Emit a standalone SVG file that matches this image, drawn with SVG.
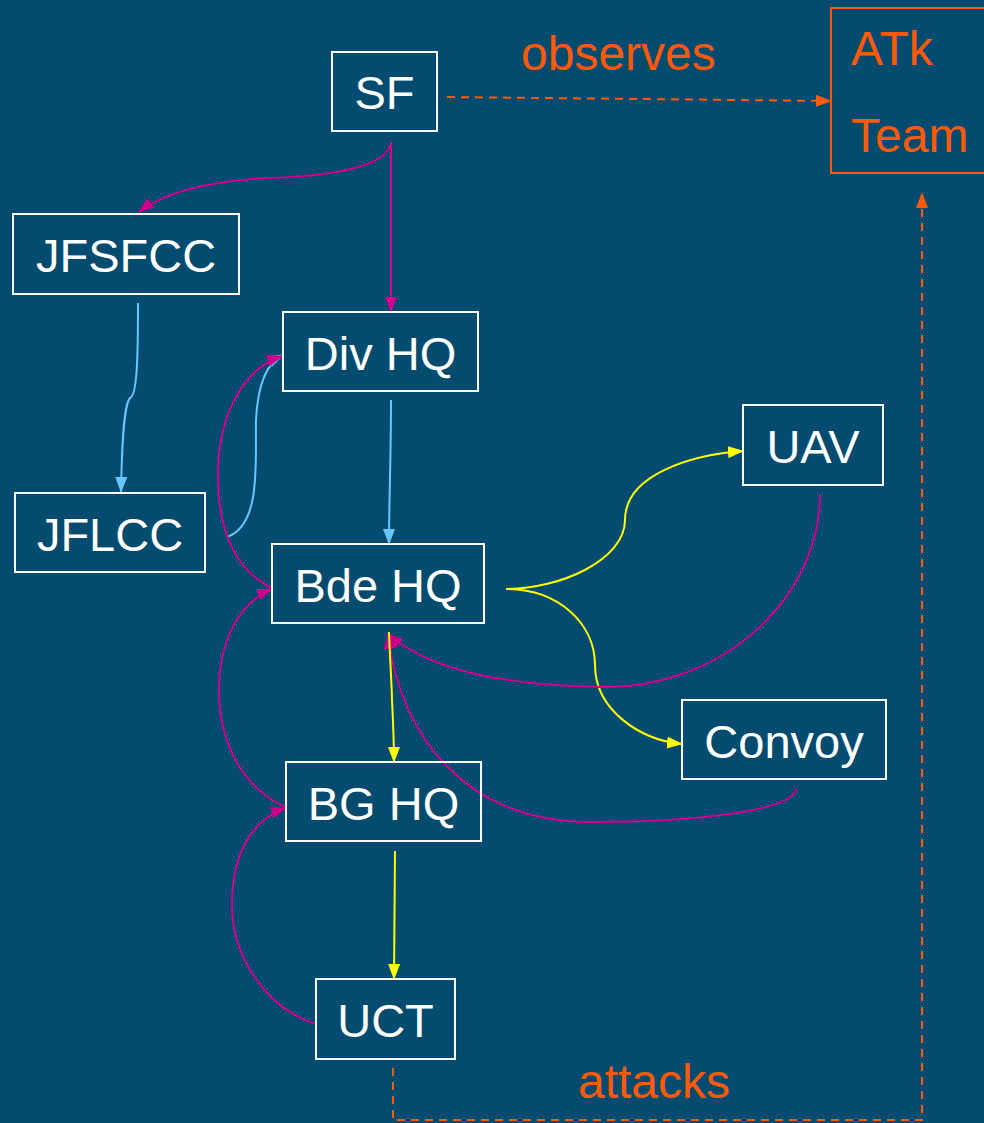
<svg xmlns="http://www.w3.org/2000/svg" width="984" height="1123" viewBox="0 0 984 1123">
<style>
.nb{fill:none;stroke:#ffffff;stroke-width:2}
.nt{font-family:"Liberation Sans",Arial,sans-serif;font-size:47px;fill:#ffffff;text-anchor:middle}
.ot{font-family:"Liberation Sans",Arial,sans-serif;font-size:48px;fill:#ff5a0a}
.m{fill:none;stroke:#d0008c;stroke-width:2}
.b{fill:none;stroke:#66c8ff;stroke-width:2}
.y{fill:none;stroke:#ffff00;stroke-width:2}
.o{fill:none;stroke:#ff5a0a;stroke-width:2;stroke-dasharray:8 6}
</style>
<defs>
<marker id="am" markerUnits="userSpaceOnUse" markerWidth="16" markerHeight="12" refX="15" refY="6" orient="auto"><path d="M0,0 L16,6 L0,12 Z" fill="#d0008c"/></marker>
<marker id="ab" markerUnits="userSpaceOnUse" markerWidth="16" markerHeight="12" refX="15" refY="6" orient="auto"><path d="M0,0 L16,6 L0,12 Z" fill="#66c8ff"/></marker>
<marker id="ay" markerUnits="userSpaceOnUse" markerWidth="16" markerHeight="12" refX="15" refY="6" orient="auto"><path d="M0,0 L16,6 L0,12 Z" fill="#ffff00"/></marker>
<marker id="ao" markerUnits="userSpaceOnUse" markerWidth="16" markerHeight="12" refX="15" refY="6" orient="auto"><path d="M0,0 L16,6 L0,12 Z" fill="#ff5a0a"/></marker>
</defs>
<rect x="0" y="0" width="984" height="1123" fill="#034b6f"/>
<g id="connectors">
<path class="m" d="M391,142 C388,170 320,176 270,178 C210,181 165,192 139,212" marker-end="url(#am)"/>
<path class="m" d="M391,142 L391,312" marker-end="url(#am)"/>
<path class="b" d="M138,303 C138,360 137,395 130,398 C124,405 122,440 121,492" marker-end="url(#ab)"/>
<path class="b" d="M227,537 C262,525 255,460 256,420 C258,380 268,362 283,355" marker-end="url(#ab)"/>
<path class="m" d="M272,588 C235,570 218,530 218,475 C218,420 240,370 282,356" marker-end="url(#am)"/>
<path class="m" d="M286,807 C245,790 219,745 219,690 C219,640 240,602 272,589" marker-end="url(#am)"/>
<path class="m" d="M316,1024 C270,1010 232,960 232,905 C232,850 255,818 286,808" marker-end="url(#am)"/>
<path class="b" d="M391,400 C391,460 389,500 389,544" marker-end="url(#ab)"/>
<path class="y" d="M506,589 C560,589 625,560 625,520 C625,475 690,455 743,451" marker-end="url(#ay)"/>
<path class="y" d="M506,589 C560,589 595,625 595,665 C595,710 640,740 682,744" marker-end="url(#ay)"/>
<path class="m" d="M820,494 C820,600 720,690 600,687 C500,685 430,670 388,634" marker-end="url(#am)"/>
<path class="m" d="M796,788 C796,810 700,822 590,822 C470,822 400,740 388,634" marker-end="url(#am)"/>
<path class="y" d="M389,632 C390,660 392,690 392,700 C393,720 394,740 394,762" marker-end="url(#ay)"/>
<path class="y" d="M395,851 L394,979" marker-end="url(#ay)"/>
<path class="o" d="M447,97 L831,101" marker-end="url(#ao)"/>
<path class="o" d="M393,1068 L393,1120 L922,1120 L922,193" marker-end="url(#ao)"/>
</g>
<g id="label-observes"><text class="ot" x="521" y="70">observes</text></g>
<g id="label-attacks"><text class="ot" x="578" y="1098">attacks</text></g>
<g id="node-atk"><rect x="831" y="8" width="170" height="165" fill="none" stroke="#ff5a0a" stroke-width="2"/><text class="ot" x="851" y="65">ATk</text><text class="ot" x="851" y="152">Team</text></g>
<g id="node-sf"><rect class="nb" x="332" y="52" width="105" height="79"/><text class="nt" x="384.5" y="109">SF</text></g>
<g id="node-jfsfcc"><rect class="nb" x="13" y="214" width="226" height="80"/><text class="nt" x="126" y="272">JFSFCC</text></g>
<g id="node-divhq"><rect class="nb" x="283" y="312" width="195" height="79"/><text class="nt" x="380.5" y="370">Div HQ</text></g>
<g id="node-jflcc"><rect class="nb" x="15" y="493" width="190" height="79"/><text class="nt" x="110" y="551">JFLCC</text></g>
<g id="node-bdehq"><rect class="nb" x="272" y="544" width="212" height="79"/><text class="nt" x="378" y="602">Bde HQ</text></g>
<g id="node-uav"><rect class="nb" x="743" y="405" width="140" height="80"/><text class="nt" x="813" y="463">UAV</text></g>
<g id="node-convoy"><rect class="nb" x="682" y="700" width="204" height="79"/><text class="nt" x="784" y="758">Convoy</text></g>
<g id="node-bghq"><rect class="nb" x="286" y="762" width="195" height="79"/><text class="nt" x="383.5" y="820">BG HQ</text></g>
<g id="node-uct"><rect class="nb" x="316" y="979" width="139" height="80"/><text class="nt" x="385.5" y="1037">UCT</text></g>
</svg>
